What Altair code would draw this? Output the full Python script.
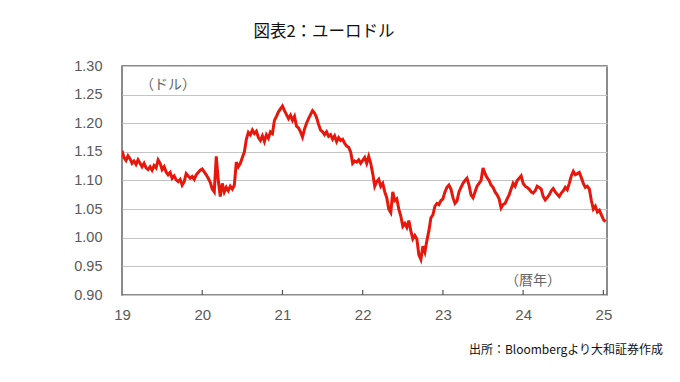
import altair as alt
import pandas as pd

# EUR/USD, sampled every 0.025 year from 2019.0 (x axis shows last two digits of year)
start_year = 19.0
step = 0.025
rate_2019 = [1.152, 1.140, 1.135, 1.143, 1.138, 1.130, 1.134, 1.128, 1.136, 1.130,
             1.124, 1.130, 1.122, 1.119, 1.124, 1.118, 1.126, 1.122, 1.136, 1.130,
             1.119, 1.124, 1.115, 1.110, 1.114, 1.104, 1.108, 1.101, 1.098, 1.102,
             1.092, 1.098, 1.112, 1.108, 1.104, 1.107, 1.102, 1.110, 1.114, 1.118]
rate_2020 = [1.120, 1.115, 1.110, 1.104, 1.097, 1.085, 1.080, 1.142, 1.100, 1.072,
             1.095, 1.080, 1.088, 1.082, 1.090, 1.085, 1.092, 1.132, 1.124, 1.130,
             1.140, 1.150, 1.172, 1.184, 1.180, 1.188, 1.182, 1.186, 1.175, 1.170,
             1.178, 1.168, 1.180, 1.174, 1.185, 1.182, 1.205, 1.212, 1.220, 1.225]
rate_2021 = [1.230, 1.222, 1.215, 1.208, 1.214, 1.205, 1.212, 1.195, 1.192, 1.185,
             1.176, 1.190, 1.200, 1.208, 1.215, 1.222, 1.218, 1.210, 1.198, 1.188,
             1.185, 1.180, 1.185, 1.177, 1.180, 1.172, 1.178, 1.168, 1.175, 1.170,
             1.172, 1.165, 1.160, 1.158, 1.150, 1.130, 1.134, 1.132, 1.136, 1.130]
rate_2022 = [1.135, 1.140, 1.130, 1.142, 1.130, 1.112, 1.090, 1.098, 1.102, 1.090,
             1.095, 1.080, 1.070, 1.050, 1.044, 1.080, 1.065, 1.068, 1.050, 1.038,
             1.020, 1.025, 1.018, 1.030, 1.012, 0.998, 1.004, 0.998, 0.970, 0.962,
             0.985, 0.975, 0.995, 1.012, 1.035, 1.040, 1.055, 1.060, 1.058, 1.065]
rate_2023 = [1.068, 1.080, 1.088, 1.092, 1.085, 1.070, 1.060, 1.064, 1.080, 1.088,
             1.095, 1.100, 1.104, 1.092, 1.075, 1.070, 1.080, 1.090, 1.095, 1.100,
             1.122, 1.112, 1.105, 1.100, 1.092, 1.088, 1.080, 1.075, 1.068, 1.052,
             1.058, 1.060, 1.068, 1.075, 1.085, 1.095, 1.090, 1.100, 1.104, 1.108]
rate_2024 = [1.095, 1.090, 1.088, 1.085, 1.080, 1.078, 1.082, 1.090, 1.088, 1.085,
             1.072, 1.066, 1.070, 1.075, 1.082, 1.086, 1.080, 1.076, 1.072, 1.078,
             1.082, 1.088, 1.084, 1.095, 1.108, 1.116, 1.110, 1.112, 1.114, 1.105,
             1.095, 1.088, 1.090, 1.085, 1.065, 1.050, 1.055, 1.045, 1.048, 1.040]
rate_2025 = [1.032, 1.028]

x_ticks = [19, 20, 21, 22, 23, 24, 25]
y_ticks = [0.90, 0.95, 1.00, 1.05, 1.10, 1.15, 1.20, 1.25, 1.30]

title_text = "図表2：ユーロドル"
unit_text = "（ドル）"
year_text = "（暦年）"
source_text = "出所：Bloombergより大和証券作成"

rates = rate_2019 + rate_2020 + rate_2021 + rate_2022 + rate_2023 + rate_2024 + rate_2025
years = [start_year + i * step for i in range(len(rates))]
df = pd.DataFrame({"year": years, "rate": rates})
ticks_df = pd.DataFrame({"year": x_ticks[1:]})

W, H = 485, 229
xscale = alt.Scale(domain=[19, 25.045], nice=False, zero=False)
yscale = alt.Scale(domain=[0.90, 1.30], nice=False, zero=False)

base = alt.Chart(df)

line = base.mark_line(color="#e8170c", strokeWidth=3, strokeJoin="miter", clip=True).encode(
    x=alt.X("year:Q", scale=xscale,
            axis=alt.Axis(values=x_ticks, format="d", title=None, grid=False,
                          ticks=False, domain=False, labelFontSize=15,
                          labelColor="#5a5a5a", labelFont="Liberation Sans",
                          labelPadding=12, labelFlush=False)),
    y=alt.Y("rate:Q", scale=yscale,
            axis=alt.Axis(values=y_ticks, format=".2f", title=None, grid=True,
                          gridColor="#c4c4c4", gridWidth=1, ticks=False,
                          domain=False, labelFontSize=14.5, labelColor="#5a5a5a",
                          labelFont="Liberation Sans", labelPadding=20)),
)

tick_marks = alt.Chart(ticks_df).mark_rule(color="#555555", strokeWidth=1.2).encode(
    x=alt.X("year:Q", scale=xscale),
    y=alt.value(H - 5),
    y2=alt.value(H),
)

def label(text, x, y, size, align="left", color="#333333", font="Noto Sans CJK JP"):
    return alt.Chart(pd.DataFrame({"t": [text]})).mark_text(
        align=align, baseline="middle", fontSize=size, font=font, color=color
    ).encode(text="t:N", x=alt.value(x), y=alt.value(y))

title = label(title_text, 202, -34, 16.5, align="center", color="#111111")
unit = label(unit_text, 18, 19, 14, color="#666666")
year_lbl = label(year_text, 383, 215, 14, color="#666666")
source = label(source_text, 541, 284, 12, align="right", color="#111111")

chart = alt.layer(line, tick_marks, title, unit, year_lbl, source).properties(
    width=W, height=H,
    background="white",
    autosize=alt.AutoSizeParams(type="none"),
    padding={"left": 114, "top": 58, "right": 65, "bottom": 78},
).configure_view(stroke="#666666", strokeWidth=1.5)

chart.save("out.html", embed_options={"renderer": "svg", "actions": False})
